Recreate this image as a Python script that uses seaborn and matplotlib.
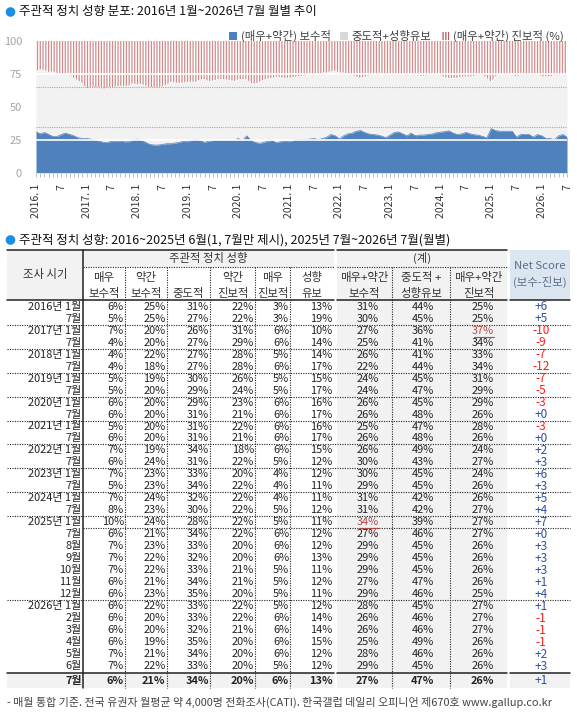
import numpy as np
import pandas as pd
import matplotlib
matplotlib.use("Agg")
import matplotlib.pyplot as plt
import seaborn as sns
from matplotlib.patches import Patch, Rectangle, Circle

# ---- monthly series (2016.1 ~ 2026.7) ----
conservative = [31, 29.5, 30.5, 29, 27.5, 27.5, 29, 30, 29, 28, 26.5, 26,
                26, 25.5, 25, 24, 23, 23, 24, 24, 24, 23.5, 23.5, 25,
                25.5, 24.5, 23, 21.5, 21, 21, 21.5, 22, 22, 22.5, 23, 24,
                24, 24.5, 25.5, 24.5, 23, 24, 24.5, 24.5, 24.5, 24.5, 24.5, 24.5,
                26, 24.5, 28, 24.5, 23, 22.3, 23, 24, 24.5, 22.8, 23.5, 24.3,
                23.5, 24.5, 25.3, 25.3, 25.3, 25.5, 26, 25, 26, 27, 29, 28,
                25.6, 28, 29.5, 30, 31.5, 32, 30.5, 29.4, 29, 28.6, 27.8, 26.6,
                28.5, 30.5, 31, 29.5, 28, 30, 28, 28.6, 28.6, 29, 29.4, 30.3,
                30.8, 31.2, 31.8, 30, 29, 29.5, 30.6, 29.5, 28.8, 28.5, 27.5, 26.5,
                33.5, 32, 31.5, 31.5, 31.5, 31.5, 27, 29, 29, 29, 27, 29,
                28, 26, 26, 25, 28, 29, 27]
progressive = [23, 21.5, 22, 23.5, 23, 24.5, 25, 26, 25.5, 28, 30, 32,
               36, 35, 35, 35, 36.5, 35, 35, 34.5, 34, 34, 34, 32,
               33, 32.5, 34, 35, 35, 35, 34.5, 33, 31, 31.5, 32, 31.5,
               31, 31, 31, 29, 29, 30.5, 30, 29, 29, 29, 29.5, 30.5,
               29, 29, 29, 32, 32.5, 31, 29.5, 28.5, 28, 27, 27.5, 28,
               28, 27.5, 27, 26.5, 26, 25.5, 25.5, 25, 24, 24, 23, 22.5,
               24, 24, 25, 26, 27, 28, 27, 26, 25.5, 25.5, 25.5, 25.5,
               25, 25, 25.5, 25.5, 25.5, 25.5, 25.5, 26.5, 26.5, 26, 25.5, 25.5,
               26, 27.5, 28, 28, 28, 27, 27, 27, 26.5, 25.5, 26, 28,
               31, 27, 25.5, 25.5, 25.5, 25.5, 27, 26, 26, 26, 26, 25,
               27, 27, 27, 26, 26, 26, 26]
tick_labels = []
for yr in range(2016, 2027):
    tick_labels += [f"{yr}. 1", "7"]

# ---- table ----
period = ["2016년 1월", "7월", "2017년 1월", "7월", "2018년 1월", "7월", "2019년 1월", "7월",
          "2020년 1월", "7월", "2021년 1월", "7월", "2022년 1월", "7월", "2023년 1월", "7월",
          "2024년 1월", "7월", "2025년 1월", "7월", "8월", "9월", "10월", "11월", "12월",
          "2026년 1월", "2월", "3월", "4월", "5월", "6월", "7월"]
very_con = [6, 5, 7, 4, 4, 4, 5, 5, 6, 6, 5, 6, 7, 6, 7, 5, 7, 8, 10, 6, 7, 7, 7, 6, 6, 6, 6, 6, 6, 7, 7, 6]
some_con = [25, 25, 20, 20, 22, 18, 19, 20, 20, 20, 20, 20, 19, 24, 23, 23, 24, 23, 24, 21, 23, 22, 22, 21, 23, 22, 20, 20, 19, 21, 22, 21]
moderate = [31, 27, 26, 27, 27, 27, 30, 29, 29, 31, 31, 31, 34, 31, 33, 34, 32, 30, 28, 34, 33, 32, 33, 34, 35, 33, 33, 32, 35, 34, 33, 34]
some_prog = [22, 22, 31, 29, 28, 28, 26, 24, 23, 21, 22, 21, 18, 22, 20, 22, 22, 22, 22, 22, 20, 20, 21, 21, 20, 22, 22, 21, 20, 20, 20, 20]
very_prog = [3, 3, 6, 6, 5, 6, 5, 5, 6, 6, 6, 6, 6, 5, 4, 4, 4, 5, 5, 6, 6, 6, 5, 5, 5, 5, 6, 6, 6, 6, 5, 6]
undecided = [13, 19, 10, 14, 14, 17, 15, 17, 16, 17, 16, 17, 15, 12, 12, 11, 11, 12, 11, 12, 12, 13, 11, 12, 11, 12, 14, 14, 15, 12, 12, 13]
sum_con = [31, 30, 27, 25, 26, 22, 24, 24, 26, 26, 25, 26, 26, 30, 30, 29, 31, 31, 34, 27, 29, 29, 29, 27, 29, 28, 26, 26, 25, 28, 29, 27]
sum_mid = [44, 45, 36, 41, 41, 44, 45, 47, 45, 48, 47, 48, 49, 43, 45, 45, 42, 42, 39, 46, 45, 45, 45, 47, 46, 45, 46, 46, 49, 46, 45, 47]
sum_prog = [25, 25, 37, 34, 33, 34, 31, 29, 29, 26, 28, 26, 24, 27, 24, 26, 26, 27, 27, 27, 26, 26, 26, 26, 25, 27, 27, 27, 26, 26, 26, 26]
net = [6, 5, -10, -9, -7, -12, -7, -5, -3, 0, -3, 0, 2, 3, 6, 3, 5, 4, 7, 0, 3, 3, 3, 1, 4, 1, -1, -1, -1, 2, 3, 1]

BLUE = "#4f81bd"
GREY = "#f2f2f2"
STRIPE = "#d08c8c"

sns.set_theme(style="white")
plt.rcParams["font.family"] = ["Noto Sans CJK KR", "DejaVu Sans"]
plt.rcParams["hatch.linewidth"] = 0.9

df = pd.DataFrame({"idx": np.arange(len(conservative)), "con": conservative, "prog": progressive})
df["top"] = 100 - df["prog"]

W, H = 577, 714
fig = plt.figure(figsize=(W / 100, H / 100), dpi=100)

# overlay axes in pixel units for titles and table
ax_t = fig.add_axes([0, 0, 1, 1], zorder=0)
ax_t.set_xlim(0, W)
ax_t.set_ylim(H, 0)
ax_t.axis("off")

# ---- area chart ----
ax = fig.add_axes([36 / W, 1 - 172.7 / H, 531 / W, 131.7 / H], zorder=2)
ax.fill_between(df["idx"], 0, df["con"], color=BLUE, lw=0, zorder=2)
ax.fill_between(df["idx"], df["con"], df["top"], color=GREY, lw=0, zorder=1)
ax.fill_between(df["idx"], df["top"], 100, facecolor="white", edgecolor=STRIPE,
                hatch="||||||", lw=0, zorder=1)
sns.lineplot(data=df, x="idx", y="con", ax=ax, color=BLUE, lw=0.5, zorder=3)
for v in (25, 75):
    ax.axhline(v, color="white", lw=1.2, zorder=4)
for v in (35, 65):
    ax.axhline(v, color="#a8a8a8", lw=0.8, ls=(0, (1, 1)), zorder=4)
ax.set_xlim(0, len(df) - 1)
ax.set_ylim(0, 100)
ax.set_xlabel("")
ax.set_ylabel("")
ax.set_yticks([0, 25, 50, 75, 100])
ax.tick_params(axis="y", left=False, length=0, pad=10, labelsize=8, labelcolor="#a6a6a6")
ax.set_xticks(np.arange(0, len(df), 6))
ax.set_xticklabels(tick_labels)
ax.set_xticks(np.arange(len(df)), minor=True)
ax.tick_params(axis="x", which="both", bottom=True, length=3, width=0.7, color="#c0c0c0", direction="out")
ax.tick_params(axis="x", which="major", pad=5, labelsize=7.5, labelcolor="#333333", labelrotation=90)
for s in ax.spines.values():
    s.set_visible(False)

handles = [Patch(facecolor=BLUE, lw=0),
           Patch(facecolor="#d9d9d9", lw=0),
           Patch(facecolor="white", edgecolor="#c0504d", hatch="||||||", lw=0)]
fig.legend(handles, ["(매우+약간) 보수적", "중도적+성향유보", "(매우+약간) 진보적 (%)"],
           loc="upper right", bbox_to_anchor=(569 / W, 1 - 24 / H), ncol=3, frameon=False,
           fontsize=8.2, handlelength=0.75, handleheight=0.75, handletextpad=0.3,
           columnspacing=0.8, borderpad=0, labelcolor="#404040")

# ---- titles ----
for ty, txt in [(12, "주관적 정치 성향 분포: 2016년 1월~2026년 7월 월별 추이"),
                (240, "주관적 정치 성향: 2016~2025년 6월(1, 7월만 제시), 2025년 7월~2026년 7월(월별)")]:
    ax_t.add_patch(Circle((10.5, ty), 4.8, color="#1a8fe3", lw=0))
    ax_t.text(19, ty, txt, fontsize=9, color="#111111", va="center", ha="left")

# ---- table geometry (pixels) ----
L, DATE_R = 7, 82.7
det = [82.7, 125, 166.7, 210, 255, 290.3, 333.7]
sums = [337, 392, 450.3, 507]
NET_L, NET_R = 509.7, 570.3
TOP, MIDLINE, HEAD_B = 249.7, 266.7, 300
rows_y = [306.7 + 11.98 * i for i in range(len(period) - 1)] + [680.7]
LAST_T, BOT = 672.7, 688.3
FS = 7.9
TXT = "#222222"
dot = dict(color="#222222", lw=0.8, ls=(0, (1, 1.2)))
solid = dict(color="#222222", lw=1.1)

# backgrounds
ax_t.add_patch(Rectangle((L, TOP), DATE_R - L, HEAD_B - TOP, color=GREY, lw=0))
ax_t.add_patch(Rectangle((det[0], TOP), det[-1] - det[0], MIDLINE - TOP, color=GREY, lw=0))
ax_t.add_patch(Rectangle((sums[0], TOP), sums[-1] - sums[0], BOT - TOP, color=GREY, lw=0))
ax_t.add_patch(Rectangle((NET_L, TOP), NET_R - NET_L, HEAD_B - TOP, color="#dce6f1", lw=0))
for a, b in [(L, det[-1]), (NET_L, NET_R)]:
    ax_t.add_patch(Rectangle((a, LAST_T), b - a, BOT - LAST_T, color=GREY, lw=0))

# lines
for a, b in [(L, det[-1]), (sums[0], sums[-1])]:
    ax_t.plot([a, b], [TOP, TOP], **solid)
    ax_t.plot([max(a, DATE_R), b], [MIDLINE, MIDLINE], **dot)
for a, b in [(L, det[-1]), (sums[0], sums[-1]), (NET_L, NET_R)]:
    ax_t.plot([a, b], [HEAD_B, HEAD_B], **solid)
    ax_t.plot([a, b], [LAST_T, LAST_T], **solid)
ax_t.plot([DATE_R, DATE_R], [TOP, BOT], **solid)
for xv in det[1:-1] + sums[1:-1]:
    ax_t.plot([xv, xv], [MIDLINE, BOT], **dot)
for i, lab in enumerate(period[:-1]):
    if i > 0 and lab.startswith("20"):
        ax_t.plot([L, NET_R], [rows_y[i] - 6, rows_y[i] - 6], **dot)
ax_t.plot([DATE_R, NET_R], [rows_y[19] - 6, rows_y[19] - 6], **dot)

# header text
hd = dict(fontsize=FS + 0.3, color="#333333", ha="center", va="center")
ax_t.text((L + DATE_R) / 2, 274.3, "조사 시기", **hd)
ax_t.text((det[0] + det[-1]) / 2, 258.3, "주관적 정치 성향", **hd)
ax_t.text((sums[0] + sums[-1]) / 2, 258.3, "(계)", **hd)
sub = [("매우", "보수적"), ("약간", "보수적"), ("", "중도적"), ("약간", "진보적"), ("매우", "진보적"), ("성향", "유보")]
for k, (t1, t2) in enumerate(sub):
    cx = (det[k] + det[k + 1]) / 2
    ax_t.text(cx, 277.3, t1, **hd)
    ax_t.text(cx, 293.5, t2, **hd)
sub2 = [("매우+약간", "보수적"), ("중도적 +", "성향유보"), ("매우+약간", "진보적")]
for k, (t1, t2) in enumerate(sub2):
    cx = (sums[k] + sums[k + 1]) / 2
    ax_t.text(cx, 277.3, t1, **hd)
    ax_t.text(cx, 293.5, t2, **hd)
ax_t.text((NET_L + NET_R) / 2, 265.7, "Net Score", fontsize=FS + 0.3, color="#5a6e8c", ha="center", va="center")
ax_t.text((NET_L + NET_R) / 2, 282.3, "(보수-진보)", fontsize=FS + 0.3, color="#5a6e8c", ha="center", va="center")

# body
detail_cols = [very_con, some_con, moderate, some_prog, very_prog, undecided]
sum_cols = [sum_con, sum_mid, sum_prog]
sum_right = [379, 434, 494]
n = len(period)
for i in range(n):
    y = rows_y[i]
    fw = "bold" if i == n - 1 else "normal"
    ax_t.text(DATE_R - 1.2, y, period[i], fontsize=FS, color=TXT, ha="right", va="center", fontweight=fw)
    for k, col in enumerate(detail_cols):
        ax_t.text(det[k + 1] - 1.2, y, f"{col[i]}%", fontsize=FS, color=TXT, ha="right", va="center", fontweight=fw)
    for k, col in enumerate(sum_cols):
        colr = TXT
        if k in (0, 2) and col[i] == max(col):
            colr = "#b04848"
            ax_t.plot([sum_right[k] - 20, sum_right[k]], [y + 6, y + 6], color=colr, lw=0.8)
        ax_t.text(sum_right[k], y, f"{col[i]}%", fontsize=FS, color=colr, ha="right", va="center", fontweight=fw)
    nc = "#ff1a1a" if net[i] < 0 else "#2f4f9f"
    ax_t.text(541, y, f"{net[i]:+d}", fontsize=FS + 0.6, color=nc, ha="center", va="center")

ax_t.text(7, 702.7, "- 매월 통합 기준. 전국 유권자 월평균 약 4,000명 전화조사(CATI). 한국갤럽 데일리 오피니언 제670호 www.gallup.co.kr",
          fontsize=7.9, color="#444444", ha="left", va="center")

fig.savefig("out.png", dpi=100)
